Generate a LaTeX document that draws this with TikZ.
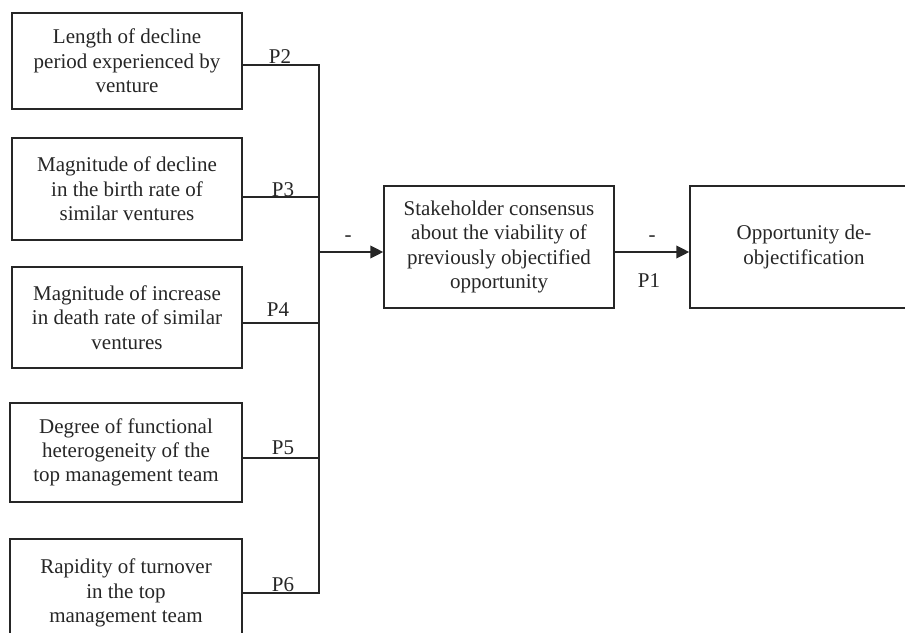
\documentclass[tikz,border=0pt]{standalone}
\usepackage{fontspec}
\setmainfont{Liberation Serif}
\usetikzlibrary{arrows.meta}
\begin{document}
\begin{tikzpicture}[x=1pt,y=-1pt,
  box/.style={draw=black!85,line width=1.4pt,align=center,inner sep=0pt,
    font=\fontsize{21}{24.3}\selectfont,text=black!85},
  lab/.style={font=\fontsize{21}{24.3}\selectfont,text=black!85,inner sep=0pt},
  conn/.style={draw=black!85,line width=1.4pt},
  arr/.style={draw=black!85,line width=2.2pt,-{Triangle[length=13pt,width=12.5pt]}}]
\useasboundingbox (0,0) rectangle (905,632);
\node[box,minimum width=230pt,minimum height=96pt] (b1) at (127,61)
  {Length of decline\\period experienced by\\venture};
\node[box,minimum width=230pt,minimum height=102pt] (b2) at (127,189)
  {Magnitude of decline\\in the birth rate of\\similar ventures};
\node[box,minimum width=230pt,minimum height=101pt] (b3) at (127,317.5)
  {Magnitude of increase\\in death rate of similar\\ventures};
\node[box,minimum width=232pt,minimum height=99pt] (b4) at (126,452.5)
  {Degree of functional\\heterogeneity of the\\top management team};
\node[box,minimum width=232pt,minimum height=108pt] (b5) at (126,593)
  {Rapidity of turnover\\in the top\\management team};
\node[box,minimum width=230pt,minimum height=122pt] (mid) at (499,247)
  {Stakeholder consensus\\about the viability of\\previously objectified\\opportunity};
\node[box,minimum width=228pt,minimum height=122pt] (out) at (804,247)
  {Opportunity de-\\objectification};
\coordinate (j) at (319,252);
\coordinate (e1) at ([yshift=-4pt]b1.east);
\coordinate (e2) at ([yshift=-8pt]b2.east);
\coordinate (e3) at ([yshift=-5.5pt]b3.east);
\coordinate (e4) at ([yshift=-5.5pt]b4.east);
\coordinate (e5) at (b5.east);
\draw[conn] (e1) -- (e1 -| j) -- (e5 -| j) -- (e5);
\draw[conn] (e2) -- (e2 -| j);
\draw[conn] (e3) -- (e3 -| j);
\draw[conn] (e4) -- (e4 -| j);
\draw[arr] (j) -- (j -| mid.west);
\draw[arr] (j -| mid.east) -- (j -| out.west);
\node[lab] (p2) at (280,57) {P2};
\node[lab] (p3) at (283,190) {P3};
\node[lab] (p4) at (278,310) {P4};
\node[lab] (p5) at (283,448) {P5};
\node[lab] (p6) at (283,585) {P6};
\node[lab] (m1) at (348,239) {-};
\node[lab] (m2) at (652,239) {-};
\node[lab] (p1) at (649,281) {P1};
\end{tikzpicture}
\end{document}
